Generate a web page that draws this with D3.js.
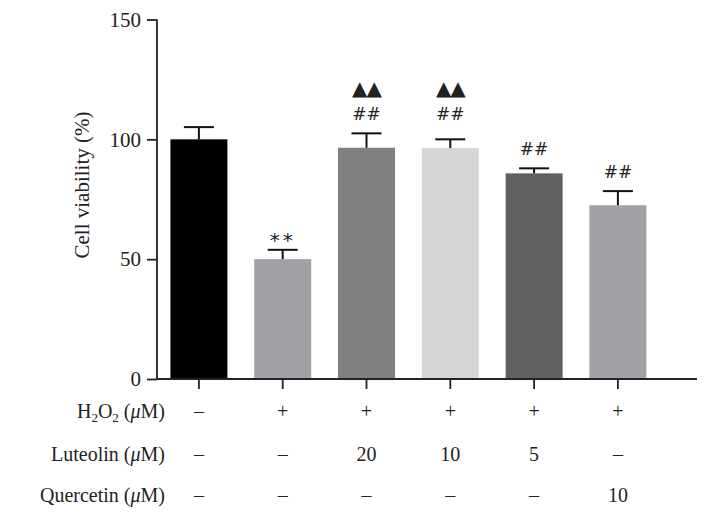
<!DOCTYPE html>
<html>
<head>
<meta charset="utf-8">
<script src="https://cdn.jsdelivr.net/npm/d3@7"></script>
<style>
  html, body { margin: 0; padding: 0; background: #fff; }
  svg text { font-family: "Liberation Serif", "DejaVu Serif", serif; fill: #222; }
</style>
</head>
<body>
<svg id="chart" width="711" height="518"></svg>
<script>
// ---- data ----
const groups = ["G1", "G2", "G3", "G4", "G5", "G6"];
const means = [100, 50, 96.5, 96.4, 85.8, 72.5];
const errors = [5.1, 3.9, 6.0, 3.6, 2.1, 5.9];
const barColors = ["#000000", "#a2a2a6", "#808080", "#d6d6d6", "#606060", "#a2a2a6"];
const hashMarks = ["", "**", "##", "##", "##", "##"];
const triangleMarks = ["", "", "▲▲", "▲▲", "", ""];
const yTicks = [0, 50, 100, 150];
const rowLabels = ["H2O2", "Luteolin", "Quercetin"];
const h2o2Row = ["–", "+", "+", "+", "+", "+"];
const luteolinRow = ["–", "–", "20", "10", "5", "–"];
const quercetinRow = ["–", "–", "–", "–", "–", "10"];

// ---- layout ----
const svg = d3.select("#chart");
const axisX = 157;
const y = d3.scaleLinear().domain([0, 150]).range([379, 19.5]);
const x = d3.scaleBand().domain(groups).range([axisX, axisX + 6 * 83.8]).paddingInner(0.32).paddingOuter(0.16);
const xAxisEnd = 697;
const fs = 20;

// bars
svg.selectAll("rect.bar").data(groups).join("rect")
  .attr("class", "bar")
  .attr("x", d => x(d))
  .attr("width", x.bandwidth())
  .attr("y", (d, i) => y(means[i]))
  .attr("height", (d, i) => y(0) - y(means[i]))
  .attr("fill", (d, i) => barColors[i]);

// error bars
const capW = 30;
const eb = svg.append("g").attr("stroke", "#111").attr("stroke-width", 2);
groups.forEach((g, i) => {
  const cx = x(g) + x.bandwidth() / 2;
  eb.append("line").attr("x1", cx).attr("x2", cx).attr("y1", y(means[i])).attr("y2", y(means[i] + errors[i]));
  eb.append("line").attr("x1", cx - capW / 2).attr("x2", cx + capW / 2).attr("y1", y(means[i] + errors[i])).attr("y2", y(means[i] + errors[i]));
});

// y axis
const yAxis = d3.axisLeft(y).tickValues(yTicks).tickSize(10).tickPadding(6);
const ya = svg.append("g").attr("transform", `translate(${axisX},0)`).call(yAxis);
ya.select(".domain").attr("stroke", "#222").attr("stroke-width", 1.8).attr("d", `M0,${y(150)}V${y(0)}`);
ya.selectAll(".tick line").attr("stroke", "#222").attr("stroke-width", 1.8);
ya.selectAll(".tick text").attr("font-size", fs + 1).attr("fill", "#222")
  .style("font-family", '"Liberation Serif", serif');

// x axis
const xAxis = d3.axisBottom(x).tickSize(10).tickFormat("");
const xa = svg.append("g").attr("transform", `translate(0,${y(0)})`).call(xAxis);
xa.select(".domain").attr("stroke", "#222").attr("stroke-width", 1.8).attr("d", `M${axisX},0H${xAxisEnd}`);
xa.selectAll(".tick line").attr("stroke", "#222").attr("stroke-width", 1.8);

// y label
svg.append("text")
  .attr("transform", `translate(89,185) rotate(-90)`)
  .attr("text-anchor", "middle")
  .attr("font-size", 21)
  .text("Cell viability (%)");

// annotations
const triLevel = d3.min(groups.map((g, i) => triangleMarks[i] ? y(means[i] + errors[i]) : Infinity));
groups.forEach((g, i) => {
  const cx = x(g) + x.bandwidth() / 2;
  if (!hashMarks[i]) return;
  const isStar = hashMarks[i] === "**";
  let base = triangleMarks[i] ? triLevel : y(means[i] + errors[i]);
  const hy = base - (isStar ? 3 : 13);
  svg.append("text").attr("x", cx).attr("y", hy).attr("text-anchor", "middle")
    .attr("letter-spacing", isStar ? 3 : 0)
    .style("font-family", '"DejaVu Sans", sans-serif')
    .attr("font-size", isStar ? 20 : 17)
    .attr("fill", "#333")
    .text(hashMarks[i]);
  if (triangleMarks[i]) {
    svg.append("text").attr("x", cx).attr("y", base - 38).attr("text-anchor", "middle")
      .attr("font-size", 20).attr("fill", "#000")
      .attr("letter-spacing", -1)
      .style("font-family", '"DejaVu Sans", sans-serif')
      .text(triangleMarks[i]);
  }
});

// treatment table
const rows = [h2o2Row, luteolinRow, quercetinRow];
const rowY = [418, 461, 502];
const labelX = 165;
// H2O2 label with subscripts
const l0 = svg.append("text").attr("x", labelX).attr("y", rowY[0]).attr("text-anchor", "end").attr("font-size", fs);
l0.append("tspan").text("H");
l0.append("tspan").attr("font-size", 13).attr("dy", 4).text("2");
l0.append("tspan").attr("dy", -4).text("O");
l0.append("tspan").attr("font-size", 13).attr("dy", 4).text("2");
l0.append("tspan").attr("dy", -4).text(" (");
l0.append("tspan").attr("font-style", "italic").text("μ");
l0.append("tspan").text("M)");
[1, 2].forEach(r => {
  const t = svg.append("text").attr("x", labelX).attr("y", rowY[r]).attr("text-anchor", "end").attr("font-size", fs);
  t.append("tspan").text(rowLabels[r] + " (");
  t.append("tspan").attr("font-style", "italic").text("μ");
  t.append("tspan").text("M)");
});
rows.forEach((row, r) => {
  svg.selectAll(null).data(row).join("text")
    .attr("x", (d, i) => x(groups[i]) + x.bandwidth() / 2)
    .attr("y", rowY[r])
    .attr("text-anchor", "middle")
    .attr("font-size", fs)
    .text(d => d);
});
</script>
</body>
</html>
